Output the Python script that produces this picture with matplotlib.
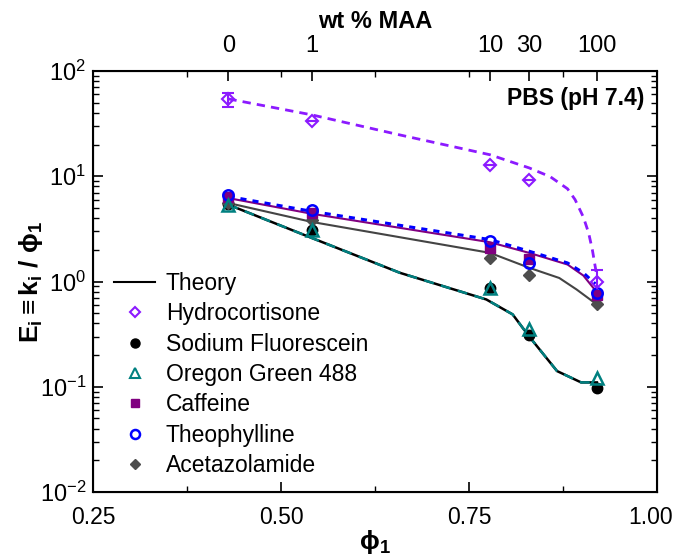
import numpy as np
import matplotlib
matplotlib.use('Agg')
import matplotlib.pyplot as plt
import matplotlib.transforms as mtransforms
from matplotlib.lines import Line2D

plt.rcParams['font.family'] = ['Liberation Sans', 'DejaVu Sans']
plt.rcParams['mathtext.fontset'] = 'custom'
plt.rcParams['mathtext.rm'] = 'Liberation Sans'
plt.rcParams['mathtext.it'] = 'Liberation Sans:italic'
plt.rcParams['mathtext.bf'] = 'Liberation Sans:bold'

# measured data (phi_1 positions of the five gels)
phi = [0.430, 0.541, 0.778, 0.830, 0.920]
wt_labels = ['0', '1', '10', '30', '100']

hydro = [54, 33.6, 12.9, 9.3, 0.98]
hydro_lo = [45.9, 33.6, 12.9, 9.3, 0.78]
hydro_hi = [61.5, 33.6, 12.9, 9.3, 1.30]
nafl = [5.4, 3.1, 0.87, 0.31, 0.098]
oregon = [5.3, 3.1, 0.87, 0.35, 0.122]
caffeine = [6.4, 4.5, 2.09, 1.62, 0.74]
theoph = [6.7, 4.8, 2.45, 1.50, 0.78]
acetaz = [5.6, 3.87, 1.68, 1.16, 0.605]

# theory curves
th_hydro_x = [0.430, 0.541, 0.658, 0.778, 0.830, 0.858, 0.881, 0.891, 0.902, 0.909, 0.914, 0.920]
th_hydro_y = [54.3, 38.3, 24.7, 16.0, 12.0, 9.9, 7.6, 6.0, 4.1, 2.9, 2.0, 1.12]
th_theo_x = [0.430, 0.541, 0.778, 0.830, 0.881, 0.902, 0.918]
th_theo_y = [6.43, 4.64, 2.5, 1.94, 1.50, 1.21, 0.95]
th_caf_x = [0.430, 0.541, 0.778, 0.830, 0.881, 0.902, 0.920]
th_caf_y = [6.2, 4.4, 2.36, 1.87, 1.45, 1.14, 0.79]
th_ace_x = [0.430, 0.541, 0.778, 0.830, 0.870, 0.893, 0.920]
th_ace_y = [5.57, 3.68, 1.87, 1.35, 1.08, 0.84, 0.605]
th_dye_x = [0.430, 0.541, 0.658, 0.773, 0.808, 0.830, 0.867, 0.899, 0.920]
th_dye_y = [5.37, 2.59, 1.21, 0.675, 0.487, 0.30, 0.141, 0.11, 0.11]

purple = '#8C1AFF'
teal = '#008080'
caf_col = '#800080'
blue = '#0000FF'
gray = '#4D4D4D'

fig = plt.figure(figsize=(6.77, 5.56), dpi=100)
ax = fig.add_axes([0.1374, 0.1151, 0.8331, 0.7572])

# theory lines
ax.plot(th_hydro_x, th_hydro_y, '--', color=purple, lw=2, dashes=(3, 2.2))
ax.plot(th_ace_x, th_ace_y, '-', color='#444444', lw=1.5)
ax.plot(th_dye_x, th_dye_y, '-', color='black', lw=1.8)
ax.plot(th_dye_x, th_dye_y, '--', color=teal, lw=1.8, dashes=(4, 3))
ax.plot(th_caf_x, th_caf_y, '-', color=caf_col, lw=1.5)
ax.plot(th_theo_x, th_theo_y, '--', color=blue, lw=2.2, dashes=(2, 2))

ms = 7.5
yerr = [np.array(hydro) - np.array(hydro_lo), np.array(hydro_hi) - np.array(hydro)]
ax.errorbar(phi, hydro, yerr=yerr, fmt='D', mfc='none', mec=purple, mew=1.5,
            ms=6.5, ecolor=purple, elinewidth=1.5, capsize=4, capthick=1.5)
ax.plot(phi, nafl, 'o', color='black', ms=ms)
ax.plot(phi, acetaz, 'D', color=gray, ms=6.5)
ax.plot(phi, caffeine, 's', color=caf_col, ms=6.5)
ax.plot(phi, theoph, 'o', mfc='none', mec=blue, mew=1.8, ms=ms)
ax.plot(phi, oregon, '^', mfc='none', mec=teal, mew=1.8, ms=8)

ax.set_yscale('log')
ax.set_ylim(1e-2, 1e2)
ax.set_xlim(0.25, 1.0)
ax.set_xticks([0.25, 0.5, 0.75, 1.0])
ax.set_xticklabels(['0.25', '0.50', '0.75', '1.00'])
ax.set_xticks([0.375, 0.625, 0.875], minor=True)
ax.tick_params(axis='both', which='major', direction='in', length=7, width=1.2,
               labelsize=17, right=True)
ax.tick_params(axis='both', which='minor', direction='in', length=4, width=1,
               right=True)
ax.tick_params(axis='x', which='major', pad=10, labelsize=16.5)
ax.tick_params(axis='y', which='major', pad=5)
for s in ax.spines.values():
    s.set_linewidth(1.5)

# nudge the last bottom label so it stays inside the canvas
last = ax.get_xticklabels()[-1]
last.set_transform(last.get_transform() +
                   mtransforms.ScaledTranslation(-5 / 72, 0, fig.dpi_scale_trans))

ax.set_xlabel(r'$\mathbf{\phi_1}$', fontsize=19, labelpad=-1)
ax.set_ylabel(r'$\mathbf{E_i \equiv k_i\ /\ \phi_1}$', fontsize=19, labelpad=-4)

axt = ax.twiny()
axt.set_xlim(0.25, 1.0)
axt.set_xticks(phi)
axt.set_xticklabels(wt_labels)
axt.set_xticks([0.375, 0.5, 0.625, 0.75, 0.875], minor=True)
axt.tick_params(axis='x', which='major', direction='in', length=7, width=1.2,
                labelsize=17, pad=10)
axt.tick_params(axis='x', which='minor', direction='in', length=4, width=1)
axt.set_xlabel('wt % MAA', fontsize=17, fontweight='bold', labelpad=5)

ax.text(0.978, 0.935, 'PBS (pH 7.4)', transform=ax.transAxes, ha='right',
        va='center', fontsize=16.5, fontweight='bold')

handles = [
    Line2D([], [], color='black', lw=1.5),
    Line2D([], [], ls='none', marker='D', mfc='none', mec=purple, mew=1.5, ms=5.5),
    Line2D([], [], ls='none', marker='o', color='black', ms=6.5),
    Line2D([], [], ls='none', marker='^', mfc='none', mec=teal, mew=1.5, ms=7),
    Line2D([], [], ls='none', marker='s', color=caf_col, ms=6),
    Line2D([], [], ls='none', marker='o', mfc='none', mec=blue, mew=1.8, ms=6.5),
    Line2D([], [], ls='none', marker='D', color=gray, ms=5.5),
]
labels = ['Theory', 'Hydrocortisone', 'Sodium Fluorescein', 'Oregon Green 488',
          'Caffeine', 'Theophylline', 'Acetazolamide']
ax.legend(handles, labels, loc='upper left', bbox_to_anchor=(0.009, 0.561),
          frameon=False, fontsize=16.5, handlelength=1.8, handletextpad=0.45,
          labelspacing=0.32, borderaxespad=0.3)

fig.savefig('out.png', dpi=100)
